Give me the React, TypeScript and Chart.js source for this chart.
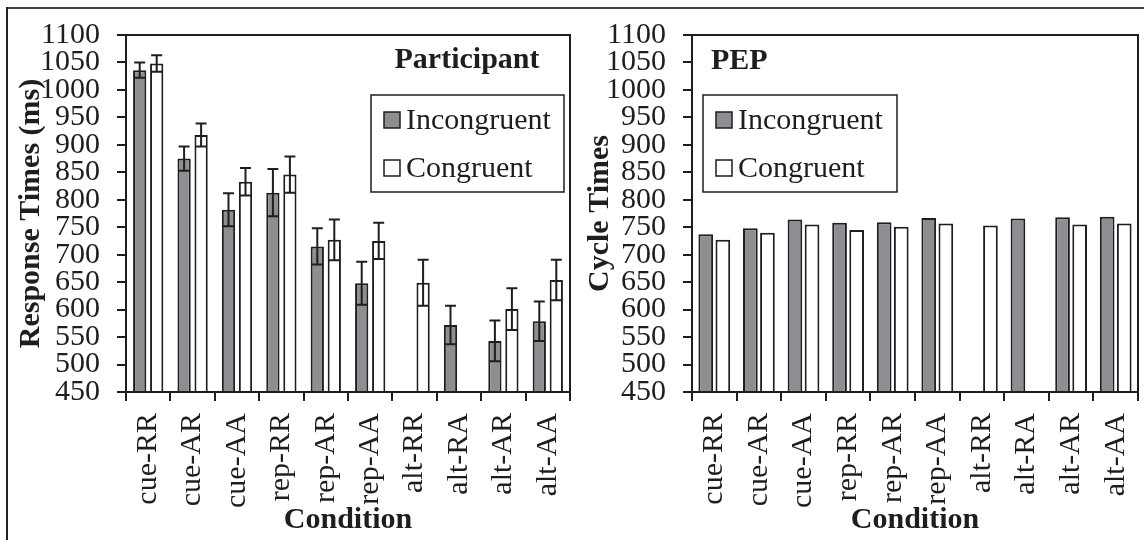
import React, { useEffect, useRef } from 'react';
import { Chart, registerables } from 'chart.js';

Chart.register(...registerables);

// ---------- data ----------
const categories = ['cue-RR', 'cue-AR', 'cue-AA', 'rep-RR', 'rep-AR', 'rep-AA', 'alt-RR', 'alt-RA', 'alt-AR', 'alt-AA'];
const seriesNames = ['Incongruent', 'Congruent'];

const participantIncongruent = [1036, 875, 782, 813, 715, 648, null, 572, 543, 579];
const participantIncongruentErr = [14, 22, 30, 43, 33, 39, null, 35, 37, 36];
const participantCongruent = [1048, 918, 833, 846, 727, 725, 649, null, 601, 654];
const participantCongruentErr = [15, 21, 25, 33, 37, 33, 42, null, 38, 37];

const pepIncongruent = [737, 748, 764, 758, 759, 767, null, 766, 768, 769];
const pepCongruent = [727, 740, 755, 745, 751, 757, 753, null, 755, 757];

const yMin = 450;
const yMax = 1100;
const yStep = 50;

// ---------- style ----------
const FONT = "'Liberation Serif', 'Times New Roman', Times, serif";
const INK = '#1e1e1e';
const GRAY = '#8e8e92';
const FS = 30;

type PanelOpts = {
  inc: (number | null)[];
  con: (number | null)[];
  incErr?: (number | null)[];
  conErr?: (number | null)[];
  yTitle: string;
  yTitlePad: number;
  yWidth: number;
  padRight: number;
  barPct: number;
  heading: string;
  headingX: number;
  headingY: number;
  headingAlign: CanvasTextAlign;
  legendX: number;
  legendY: number;
  legendW: number;
  legendH: number;
};

function makeChart(canvas: HTMLCanvasElement, p: PanelOpts) {
  const panelPlugin = {
    id: 'panelExtras',
    afterDatasetsDraw(chart: any) {
      const ctx = chart.ctx;
      const yScale = chart.scales.y;
      const area = chart.chartArea;
      ctx.save();
      const errs = [p.incErr, p.conErr];
      errs.forEach((errArr, di) => {
        if (!errArr) return;
        const meta = chart.getDatasetMeta(di);
        const vals = chart.data.datasets[di].data;
        meta.data.forEach((el: any, i: number) => {
          const v = vals[i];
          const e = errArr[i];
          if (v == null || e == null) return;
          const x = el.x;
          const yTop = yScale.getPixelForValue(v + e);
          const yBot = yScale.getPixelForValue(v - e);
          const cap = 5.5;
          ctx.strokeStyle = INK;
          ctx.lineWidth = 2;
          ctx.beginPath();
          ctx.moveTo(x, yTop);
          ctx.lineTo(x, yBot);
          ctx.moveTo(x - cap, yTop);
          ctx.lineTo(x + cap, yTop);
          ctx.moveTo(x - cap, yBot);
          ctx.lineTo(x + cap, yBot);
          ctx.stroke();
        });
      });
      ctx.strokeStyle = INK;
      ctx.lineWidth = 2;
      ctx.strokeRect(area.left, area.top, area.right - area.left, area.bottom - area.top);
      ctx.restore();
    },
    afterDraw(chart: any) {
      const ctx = chart.ctx;
      ctx.save();
      ctx.fillStyle = INK;
      ctx.font = `bold ${FS}px ${FONT}`;
      ctx.textAlign = p.headingAlign;
      ctx.textBaseline = 'middle';
      ctx.fillText(p.heading, p.headingX, p.headingY);
      ctx.fillStyle = '#ffffff';
      ctx.fillRect(p.legendX, p.legendY, p.legendW, p.legendH);
      ctx.strokeStyle = INK;
      ctx.lineWidth = 1.5;
      ctx.strokeRect(p.legendX, p.legendY, p.legendW, p.legendH);
      const fills = [GRAY, '#ffffff'];
      const rows = [25, 73];
      seriesNames.forEach((name, i) => {
        const cy = p.legendY + rows[i];
        ctx.fillStyle = fills[i];
        ctx.fillRect(p.legendX + 13, cy - 8, 16, 16);
        ctx.strokeStyle = INK;
        ctx.lineWidth = 1.5;
        ctx.strokeRect(p.legendX + 13, cy - 8, 16, 16);
        ctx.fillStyle = INK;
        ctx.font = `${FS}px ${FONT}`;
        ctx.textAlign = 'left';
        ctx.textBaseline = 'middle';
        ctx.fillText(name, p.legendX + 35, cy + 1);
      });
      ctx.restore();
    },
  };

  return new Chart(canvas, {
    type: 'bar',
    data: {
      labels: categories,
      datasets: [
        {
          label: seriesNames[0],
          data: p.inc,
          backgroundColor: GRAY,
          borderColor: INK,
          borderWidth: 2,
          categoryPercentage: 0.766,
          barPercentage: p.barPct,
        },
        {
          label: seriesNames[1],
          data: p.con,
          backgroundColor: '#ffffff',
          borderColor: INK,
          borderWidth: 2,
          categoryPercentage: 0.766,
          barPercentage: p.barPct,
        },
      ],
    },
    options: {
      responsive: false,
      animation: false,
      devicePixelRatio: 1,
      layout: { padding: { top: 32, right: p.padRight, left: 0, bottom: 0 } },
      plugins: {
        legend: { display: false },
        tooltip: { enabled: false },
      },
      scales: {
        x: {
          grid: { offset: true, drawOnChartArea: false, drawTicks: true, tickLength: 9, color: INK, lineWidth: 2 },
          border: { display: true, color: INK, width: 2 },
          ticks: {
            color: INK,
            font: { family: FONT, size: FS },
            minRotation: 90,
            maxRotation: 90,
            autoSkip: false,
            padding: 12,
          },
          title: {
            display: true,
            text: 'Condition',
            color: INK,
            font: { family: FONT, size: FS, weight: 'bold' },
            padding: { top: 0, bottom: 2 },
          },
          afterFit: (s: any) => {
            s.height = 148;
            s.paddingLeft = 0;
            s.paddingRight = 0;
          },
        },
        y: {
          min: yMin,
          max: yMax,
          grid: { drawOnChartArea: false, drawTicks: true, tickLength: 9, color: INK, lineWidth: 2 },
          border: { display: true, color: INK, width: 2 },
          ticks: {
            stepSize: yStep,
            autoSkip: false,
            color: INK,
            font: { family: FONT, size: FS },
            padding: 17,
            callback: (v: any) => String(v),
          },
          title: {
            display: true,
            text: p.yTitle,
            color: INK,
            font: { family: FONT, size: FS, weight: 'bold' },
            padding: { top: p.yTitlePad, bottom: 0 },
          },
          afterFit: (s: any) => {
            s.width = p.yWidth;
          },
        },
      },
    } as any,
    plugins: [panelPlugin],
  });
}

export default function App() {
  const leftRef = useRef<HTMLCanvasElement | null>(null);
  const rightRef = useRef<HTMLCanvasElement | null>(null);

  useEffect(() => {
    const charts: Chart[] = [];
    if (leftRef.current) {
      charts.push(
        makeChart(leftRef.current, {
          inc: participantIncongruent,
          con: participantCongruent,
          incErr: participantIncongruentErr,
          conErr: participantCongruentErr,
          yTitle: 'Response Times (ms)',
          yTitlePad: 13,
          yWidth: 126,
          padRight: 5,
          barPct: 0.78,
          heading: 'Participant',
          headingX: 467,
          headingY: 60,
          headingAlign: 'center',
          legendX: 371,
          legendY: 95,
          legendW: 193,
          legendH: 97,
        })
      );
    }
    if (rightRef.current) {
      charts.push(
        makeChart(rightRef.current, {
          inc: pepIncongruent,
          con: pepCongruent,
          yTitle: 'Cycle Times',
          yTitlePad: 7,
          yWidth: 117,
          padRight: 6,
          barPct: 0.86,
          heading: 'PEP',
          headingX: 136,
          headingY: 61,
          headingAlign: 'left',
          legendX: 128,
          legendY: 95,
          legendW: 194,
          legendH: 97,
        })
      );
    }
    return () => {
      charts.forEach((c) => c.destroy());
    };
  }, []);

  return (
    <div
      style={{
        position: 'fixed',
        left: 0,
        top: 0,
        width: 1144,
        height: 540,
        background: '#ffffff',
        overflow: 'hidden',
      }}
    >
      <div style={{ position: 'absolute', left: 6, top: 7, width: 1138, height: 2, background: '#444' }} />
      <div style={{ position: 'absolute', left: 6, top: 7, width: 2, height: 533, background: '#222' }} />
      <canvas
        ref={leftRef}
        width={575}
        height={540}
        style={{ position: 'absolute', left: 0, top: 0, width: 575, height: 540 }}
      />
      <canvas
        ref={rightRef}
        width={569}
        height={540}
        style={{ position: 'absolute', left: 575, top: 0, width: 569, height: 540 }}
      />
    </div>
  );
}
